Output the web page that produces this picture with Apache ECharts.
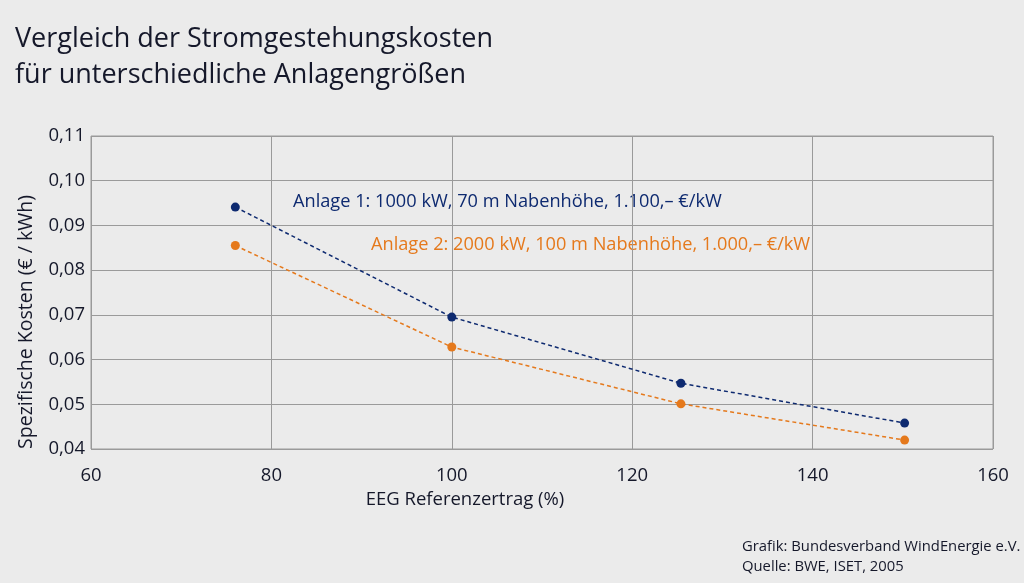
<!DOCTYPE html>
<html><head><meta charset="utf-8">
<script src="https://cdn.jsdelivr.net/npm/echarts@6/dist/echarts.min.js"></script>
<style>html,body{margin:0;padding:0;background:#ebebeb;}#c{width:1024px;height:583px;}</style>
</head><body><div id="c"></div>
<script>
const ertrag = [76, 100, 125.4, 150.2];
const anlage1 = [0.0941, 0.0695, 0.0547, 0.0458];
const anlage2 = [0.0855, 0.0628, 0.0501, 0.0420];
const seriesNames = ['Anlage 1: 1000 kW, 70 m Nabenhöhe, 1.100,– €/kW', 'Anlage 2: 2000 kW, 100 m Nabenhöhe, 1.000,– €/kW'];
const titleLines = ['Vergleich der Stromgestehungskosten', 'für unterschiedliche Anlagengrößen'];
const xName = 'EEG Referenzertrag (%)';
const yName = 'Spezifische Kosten (€ / kWh)';
const footer = ['Grafik: Bundesverband WindEnergie e.V.', 'Quelle: BWE, ISET, 2005'];
const FONT = '"Open Sans", sans-serif';
const blue = '#0e2a70', orange = '#e5791c', txt = '#15182a';
const chart = echarts.init(document.getElementById('c'));
const mk = (xs, ys) => xs.map((x, i) => [x, ys[i]]);
chart.setOption({
  backgroundColor: '#ebebeb',
  animation: false,
  grid: {left: 91, right: 31, top: 136, bottom: 134, show: true, borderColor: '#9a9a9a', borderWidth: 1},
  xAxis: {
    type: 'value', min: 60, max: 160, interval: 20,
    axisLine: {show: false}, axisTick: {show: false},
    axisLabel: {fontFamily: FONT, fontSize: 18.5, color: txt, margin: 17},
    splitLine: {lineStyle: {color: '#9a9a9a', width: 1}}
  },
  yAxis: {
    type: 'value', min: 0.04, max: 0.11, interval: 0.01,
    axisLine: {show: false}, axisTick: {show: false},
    axisLabel: {fontFamily: FONT, fontSize: 18.5, color: txt, margin: 6,
      formatter: v => v.toFixed(2).replace('.', ',')},
    splitLine: {lineStyle: {color: '#9a9a9a', width: 1}}
  },
  title: {
    text: titleLines.join('\n'), left: 10, top: 16,
    textStyle: {fontFamily: FONT, fontSize: 27, fontWeight: 'normal', color: txt, lineHeight: 36}
  },
  graphic: [
    {type: 'text', left: 293, top: 193, style: {text: seriesNames[0], fill: blue, font: '18.2px ' + FONT}},
    {type: 'text', left: 371, top: 236, style: {text: seriesNames[1], fill: orange, font: '18.2px ' + FONT}},
    {type: 'text', x: 465, y: 500, style: {text: xName, fill: txt, font: '18.5px ' + FONT, align: 'center', verticalAlign: 'middle'}},
    {type: 'text', x: 26, y: 322, rotation: Math.PI / 2, style: {text: yName, fill: txt, font: '19.5px ' + FONT, align: 'center', verticalAlign: 'middle'}},
    {type: 'text', left: 742, top: 539, style: {text: footer[0], fill: txt, font: '14.8px ' + FONT}},
    {type: 'text', left: 742, top: 559, style: {text: footer[1], fill: txt, font: '14.8px ' + FONT}}
  ],
  series: [
    {type: 'line', name: seriesNames[0], data: mk(ertrag, anlage1), symbol: 'circle', symbolSize: 9,
     itemStyle: {color: blue}, lineStyle: {color: blue, width: 1.5, type: [4, 3]}},
    {type: 'line', name: seriesNames[1], data: mk(ertrag, anlage2), symbol: 'circle', symbolSize: 9,
     itemStyle: {color: orange}, lineStyle: {color: orange, width: 1.5, type: [4, 3]}}
  ]
});
</script></body></html>
